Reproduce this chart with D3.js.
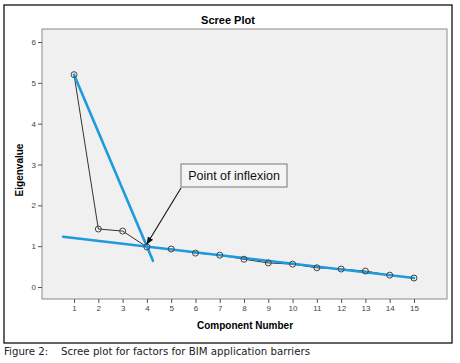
<!DOCTYPE html>
<html>
<head>
<meta charset="utf-8">
<script src="https://cdn.jsdelivr.net/npm/d3@7"></script>
<style>
  html, body { margin: 0; padding: 0; background: #fff; }
  svg { display: block; font-family: "Liberation Sans", Arial, sans-serif; }
</style>
</head>
<body>
<svg id="chart" width="460" height="363"></svg>
<script>
// scree plot values
const components = [1, 2, 3, 4, 5, 6, 7, 8, 9, 10, 11, 12, 13, 14, 15];
const eigenvalues = [5.2, 1.42, 1.37, 0.98, 0.93, 0.83, 0.78, 0.68, 0.59, 0.56, 0.47, 0.44, 0.39, 0.29, 0.22];
const yTicks = [0, 1, 2, 3, 4, 5, 6];
// hand-drawn blue guide lines [component, eigenvalue]
const steepLine = [[1, 5.2], [4.25, 0.64]];
const flatLine = [[0.55, 1.23], [15, 0.22]];
const inflexion = [4, 0.98];
const annotationText = 'Point of inflexion';

const svg = d3.select('#chart');
const frame = { l: 4, t: 5, r: 452, b: 343 };
const m = { l: 42, t: 29, r: 447, b: 299 };

// outer frame
svg.append('rect')
  .attr('x', frame.l).attr('y', frame.t)
  .attr('width', frame.r - frame.l).attr('height', frame.b - frame.t)
  .attr('fill', '#fff').attr('stroke', '#111').attr('stroke-width', 1.3);

const x = d3.scaleLinear().domain([-0.32, 16.36]).range([m.l, m.r]);
const y = d3.scaleLinear().domain([0, 6]).range([287, 42]);

// plot area
svg.append('rect')
  .attr('x', m.l).attr('y', m.t)
  .attr('width', m.r - m.l).attr('height', m.b - m.t)
  .attr('fill', '#f0f0f0').attr('stroke', '#8a8a8a').attr('stroke-width', 1);

// axes
const yAxis = svg.append('g').attr('transform', `translate(${m.l},0)`)
  .call(d3.axisLeft(y).tickValues(yTicks).tickFormat(d3.format('d')).tickSize(4).tickPadding(2).tickSizeOuter(0));
yAxis.select('.domain').remove();
yAxis.selectAll('line').attr('stroke', '#555');
yAxis.selectAll('text').attr('font-size', 8).attr('fill', '#444');

const xAxis = svg.append('g').attr('transform', `translate(0,${m.b})`)
  .call(d3.axisBottom(x).tickValues(components).tickFormat(d3.format('d')).tickSize(4).tickPadding(2).tickSizeOuter(0));
xAxis.select('.domain').remove();
xAxis.selectAll('line').attr('stroke', '#555');
xAxis.selectAll('text').attr('font-size', 8).attr('fill', '#444');

// titles
svg.append('text').attr('x', 228).attr('y', 24).attr('text-anchor', 'middle')
  .attr('font-size', 11).attr('font-weight', 'bold').text('Scree Plot');
svg.append('text').attr('x', 245).attr('y', 329).attr('text-anchor', 'middle')
  .attr('font-size', 10).attr('font-weight', 'bold').text('Component Number');
svg.append('text').attr('transform', 'translate(23,170) rotate(-90)').attr('text-anchor', 'middle')
  .attr('font-size', 10).attr('font-weight', 'bold').text('Eigenvalue');

// data line + markers
const line = d3.line().x(d => x(d[0])).y(d => y(d[1]));
const pts = components.map((c, i) => [c, eigenvalues[i]]);
svg.append('path').datum(pts)
  .attr('fill', 'none').attr('stroke', '#333').attr('stroke-width', 1)
  .attr('d', line);

// blue guide lines
[steepLine, flatLine].forEach(seg => {
  svg.append('path').datum(seg)
    .attr('fill', 'none').attr('stroke', '#1e9ade').attr('stroke-width', 2.6)
    .attr('stroke-linecap', 'round')
    .attr('d', line);
});

svg.append('g').selectAll('circle').data(pts).join('circle')
  .attr('cx', d => x(d[0])).attr('cy', d => y(d[1])).attr('r', 3)
  .attr('fill', 'none').attr('stroke', '#444').attr('stroke-width', 1);

// annotation
const box = { x: 181, y: 164, w: 106, h: 23 };
svg.append('rect').attr('x', box.x).attr('y', box.y).attr('width', box.w).attr('height', box.h)
  .attr('fill', '#f4f4f4').attr('stroke', '#777').attr('stroke-width', 1);
svg.append('text').attr('x', box.x + box.w / 2).attr('y', box.y + 16).attr('text-anchor', 'middle')
  .attr('font-size', 12.5).attr('fill', '#111').text(annotationText);

svg.append('defs').append('marker')
  .attr('id', 'arr').attr('viewBox', '0 0 10 10').attr('refX', 9).attr('refY', 5)
  .attr('markerWidth', 7).attr('markerHeight', 7).attr('orient', 'auto')
  .append('path').attr('d', 'M0,1 L10,5 L0,9 z').attr('fill', '#111');
svg.append('line')
  .attr('x1', box.x).attr('y1', box.y + box.h + 1)
  .attr('x2', x(inflexion[0])).attr('y2', y(inflexion[1]) - 3)
  .attr('stroke', '#111').attr('stroke-width', 1.1).attr('marker-end', 'url(#arr)');

// caption
svg.append('text').attr('x', 4).attr('y', 355).attr('font-size', 10.2).attr('fill', '#222')
  .attr('font-family', '"DejaVu Sans", sans-serif')
  .text('Figure 2:');
svg.append('text').attr('x', 61).attr('y', 355).attr('font-size', 10.2).attr('fill', '#222')
  .attr('font-family', '"DejaVu Sans", sans-serif')
  .attr('textLength', 249).attr('lengthAdjust', 'spacingAndGlyphs')
  .text('Scree plot for factors for BIM application barriers');
</script>
</body>
</html>
